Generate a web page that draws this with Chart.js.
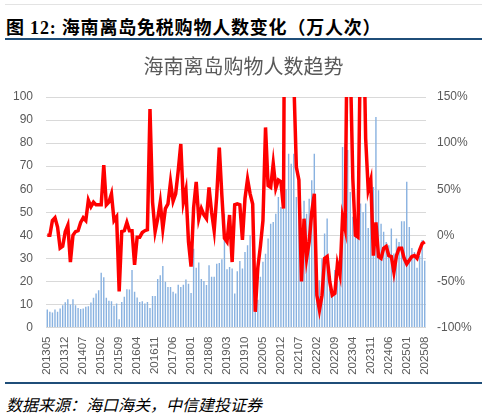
<!DOCTYPE html>
<html>
<head>
<meta charset="utf-8">
<script src="https://cdn.jsdelivr.net/npm/chart.js@4.4.1/dist/chart.umd.min.js"></script>
<style>
  body { margin: 0; width: 487px; height: 416px; background: #fff; position: relative; overflow: hidden; }
  #topRule { position: absolute; left: 5px; top: 4px; width: 477px; height: 1px; background: #e3e3e3; }
  #header { position: absolute; left: 6px; top: 13px; font: bold 18px "Liberation Serif", "Noto Sans CJK SC", serif; letter-spacing: 0.8px; color: #000; white-space: nowrap; }
  #headRule { position: absolute; left: 5px; top: 38px; width: 477px; height: 2px; background: #1f4e79; }
  #wrap { position: absolute; left: 0; top: 45px; width: 487px; height: 336px; }
  #footRule { position: absolute; left: 5px; top: 382px; width: 477px; height: 2px; background: #1f4e79; }
  #footer { position: absolute; left: 6px; top: 392px; font: italic 16px "Noto Sans CJK SC", sans-serif; color: #000; white-space: nowrap; }
</style>
</head>
<body>
<div id="topRule"></div>
<div id="header">图 12: 海南离岛免税购物人数变化（万人次）</div>
<div id="headRule"></div>
<div id="wrap"><canvas id="chart"></canvas></div>
<div id="footRule"></div>
<div id="footer">数据来源：海口海关，中信建投证券</div>
<script>
// monthly series, 2013-05 .. 2025-08
const startYear = 2013;
const startMonth = 5;
const monthCount = 148;

const tickLabels = ['201305', '201312', '201407', '201502', '201509', '201604', '201611', '201706',
    '201801', '201808', '201903', '201910', '202005', '202012', '202107', '202202', '202209',
    '202304', '202311', '202406', '202501', '202508'];

// 购物人数 (万人次)
const shoppers = [
    7.8, 6.8, 6.5, 7.8, 6.8, 8.2, 9.7, 11, 12.3, 10, 12.3, 9.7,
    8.5, 8, 8.2, 9, 9.2, 10.8, 12.9, 14.7, 16.2, 23.7, 21.8, 12.9,
    11.6, 11.4, 9.4, 10.4, 3.6, 11.1, 13.3, 16.6, 16.5, 24.9, 15.5, 13,
    11.1, 11.4, 10.4, 11.1, 8.5, 13.7, 13.7, 21, 22.7, 26.7, 19.8, 17.6,
    17.6, 15.5, 14.7, 18.6, 17.6, 18.6, 20.8, 19, 15, 34.2, 25.9, 28.2,
    21, 20.2, 18.4, 27, 22, 22, 27.7, 28, 29.6, 49.4, 25.3, 26.2,
    25.6, 14.7, 24.4, 28.8, 25.6, 32.8, 35.7, 40, 40, 8, 12, 22,
    28.5, 32, 38.6, 45, 45.8, 49.4, 56.6, 52.3, 51.6, 60, 75.4, 71,
    75.4, 56.6, 50, 24.9, 55, 49.4, 55.9, 63.9, 75.4, 20, 20.5, 29.9,
    40.8, 47.3, 16.9, 14, 24.9, 29.2, 31, 78.3, 79.8, 77, 58.8, 48,
    41, 45.8, 53.8, 50.1, 53.8, 43.2, 52, 61, 91.3, 59.5, 45, 41.5,
    37.1, 35.7, 42.9, 32.1, 38.6, 37.1, 46.1, 46.1, 63.2, 43.6, 34.5, 32.8,
    25.9, 31, 38, 29
];

// 同比 (%)
const yoy = [
    0, 0, 16, 19, 9, -14, -12, 4, 11, -29, 0, 4,
    5, 14, 19, 16, 38, 31, 36, 33, 33, 33, 76, 33,
    36, 45, 16, 20, -61, 4, 5, 14, 5, 5, -32, -2,
    -2, 3, 5, 6, 137, 36, 4, 18, 36, 7, 29, 34,
    58, 37, 45, 70, 99, 36, 49, -7, -34, 30, 58, 18,
    29, 22, 18, 52, 25, 5, 43, 95, 43, -3, -7, 22,
    -29, 33, 34, 33, -5, 40, 61, 45, 34, -83, -35, -12,
    16, 117, 54, 52, 78, 51, 60, 58, 29, 600, 500, 250,
    170, 74, 60, -50, 18, -25, -7, 25, 45, -65, -81, -65,
    -25, -23, -50, -65, -63, -31, -43, 20, 7, 280, 190, 61,
    0, -2, 220, 260, 105, 49, 60, -22, 14, -23, -25, -14,
    -12, -22, -23, -40, -22, -14, -14, -25, -31, -27, -23, -22,
    -25, -16, -9, -7
];

const months = [];
for (let i = 0; i < monthCount; i++) {
    const m = startMonth - 1 + i;
    const y = startYear + Math.floor(m / 12);
    months.push(y + String(m % 12 + 1).padStart(2, '0'));
}

const tickFont = { family: '"Liberation Sans", "Noto Sans", sans-serif', size: 12 };
const grey = '#595959';

const ctx = document.getElementById('chart').getContext('2d');
const chart = new Chart(ctx, {
    data: {
        labels: months,
        datasets: [{
            type: 'line',
            label: '同比',
            data: yoy,
            yAxisID: 'yR',
            borderColor: '#ff0000',
            borderWidth: 3.5,
            pointRadius: 0,
            tension: 0,
            order: 0,
        }, {
            type: 'bar',
            label: '购物人数',
            data: shoppers,
            yAxisID: 'y',
            backgroundColor: '#89b2e0',
            barPercentage: 0.55,
            categoryPercentage: 1,
            order: 1,
        }]
    },
    options: {
        responsive: true,
        maintainAspectRatio: false,
        animation: false,
        layout: { padding: 0 },
        plugins: {
            legend: { display: false },
            tooltip: { enabled: false },
            title: {
                display: true,
                text: '海南离岛购物人数趋势',
                color: grey,
                font: { family: '"Noto Sans CJK SC", sans-serif', size: 20, weight: 'normal' },
                padding: { top: 9, bottom: 19 }
            }
        },
        scales: {
            x: {
                grid: { display: false, drawTicks: false },
                border: { display: false },
                ticks: {
                    autoSkip: false,
                    minRotation: 90,
                    maxRotation: 90,
                    padding: 9,
                    color: grey,
                    font: { family: tickFont.family, size: 11.5 },
                    callback: function (val, i) {
                        const lab = months[i];
                        return tickLabels.includes(lab) ? lab : null;
                    }
                },
                afterFit: function (scale) { scale.height = 53.5; }
            },
            y: {
                position: 'left',
                min: 0,
                max: 100,
                ticks: { stepSize: 10, color: grey, font: tickFont, padding: 13 },
                grid: { color: '#d9d9d9', drawTicks: false },
                border: { display: false },
                afterFit: function (scale) { scale.width = 46; }
            },
            yR: {
                position: 'right',
                min: -100,
                max: 150,
                ticks: {
                    stepSize: 50,
                    color: grey,
                    font: tickFont,
                    padding: 11,
                    callback: function (v) { return v + '%'; }
                },
                grid: { display: false, drawTicks: false },
                border: { display: false },
                afterFit: function (scale) { scale.width = 61; }
            }
        }
    }
});
</script>
</body>
</html>
